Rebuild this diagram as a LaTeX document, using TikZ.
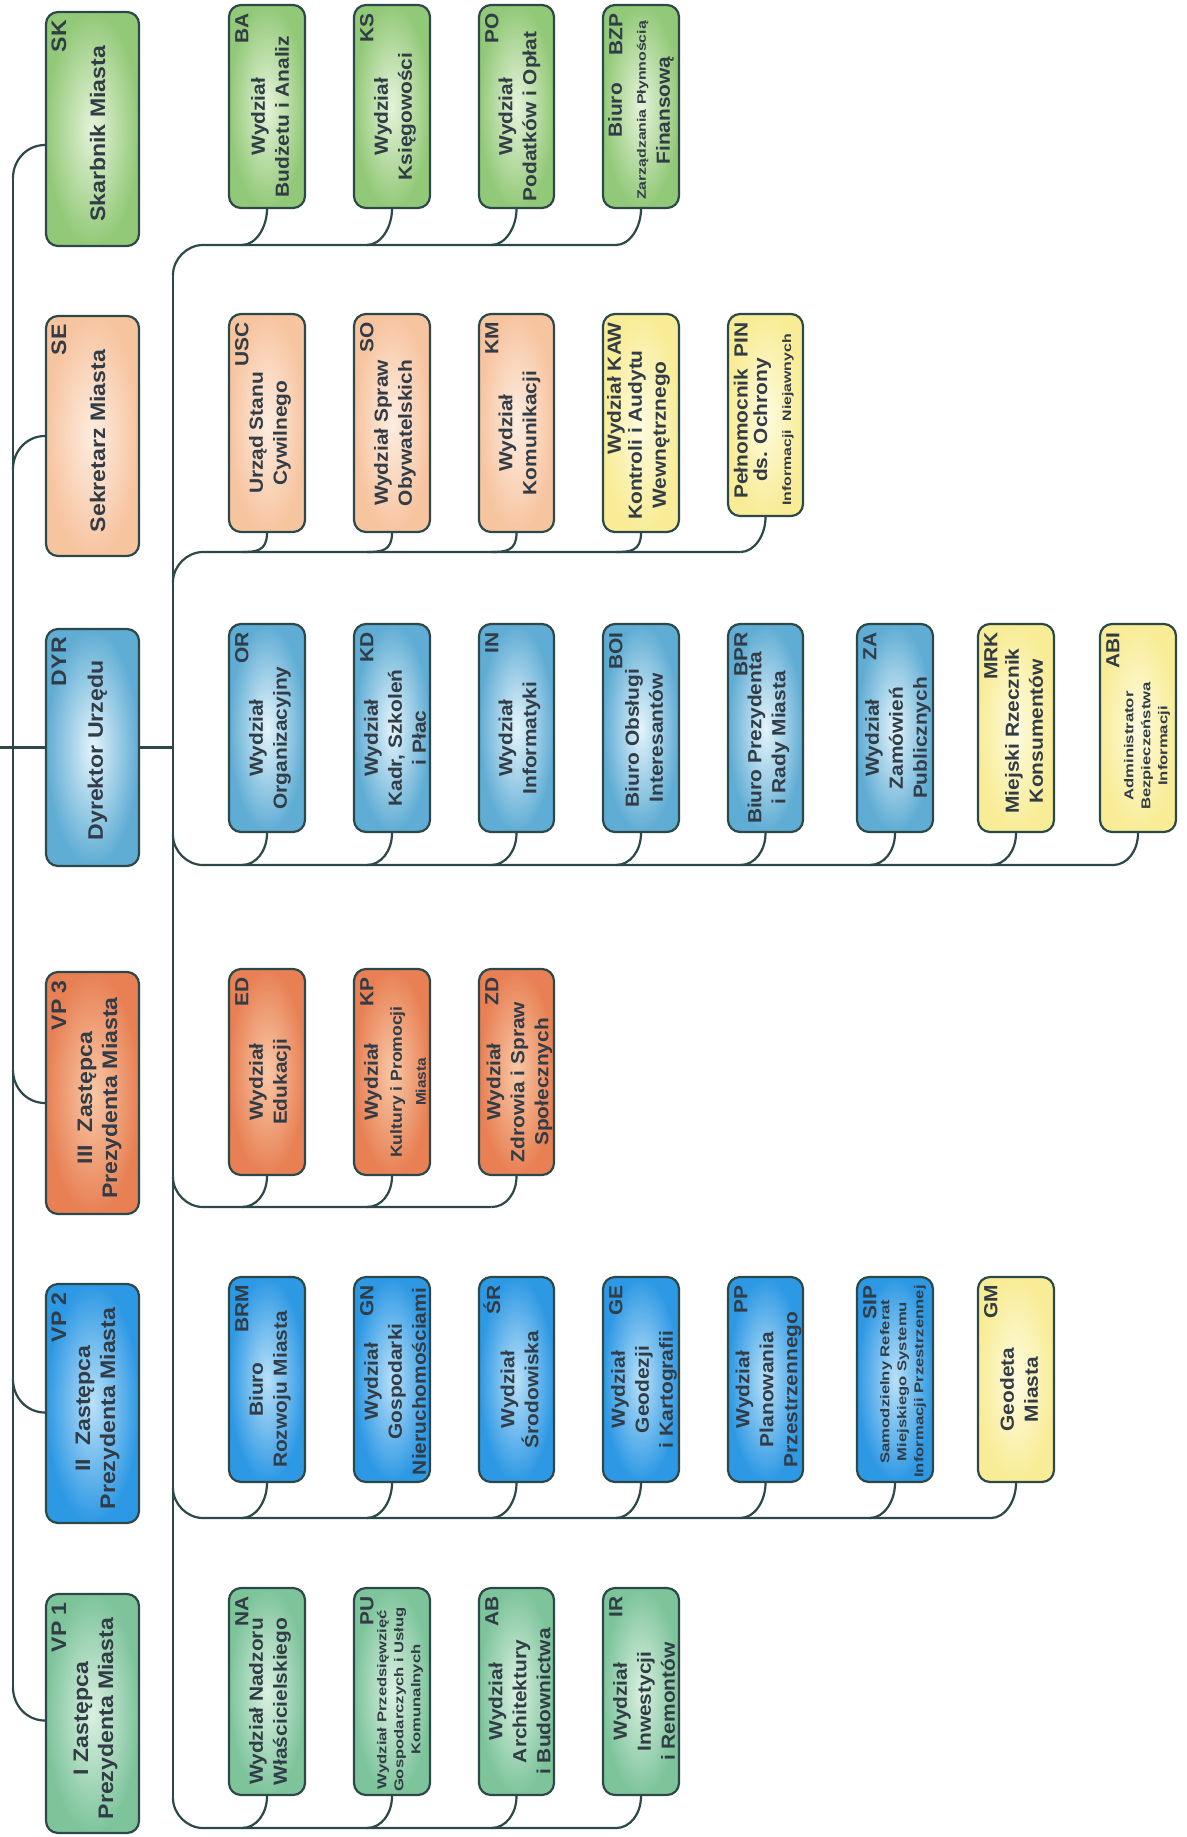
\documentclass[tikz,border=0pt]{standalone}
\usepackage{fontspec}
\setmainfont{Liberation Sans}[FakeStretch=1.1]
\newfontfamily\smallfam{Liberation Sans}[FakeStretch=1.3]
\usetikzlibrary{calc}
\definecolor{edge}{RGB}{45,72,72}
\definecolor{ink}{RGB}{50,60,70}
\definecolor{grn}{RGB}{146,201,120}\definecolor{grnl}{RGB}{230,243,218}
\definecolor{mnt}{RGB}{125,196,155}\definecolor{mntl}{RGB}{218,240,225}
\definecolor{pch}{RGB}{247,196,160}\definecolor{pchl}{RGB}{253,237,224}
\definecolor{ylw}{RGB}{248,236,150}\definecolor{ylwl}{RGB}{254,251,224}
\definecolor{lbl}{RGB}{95,172,212}\definecolor{lbll}{RGB}{228,244,251}
\definecolor{org}{RGB}{232,128,84}\definecolor{orgl}{RGB}{248,200,166}
\definecolor{blu}{RGB}{45,152,228}\definecolor{blul}{RGB}{185,224,248}
\tikzset{
  box/.style={draw=edge, line width=1.1pt, rounded corners=6pt, rotate=90, inner sep=0pt},
  txt/.style={text=ink, align=center, inner sep=0pt, font=\bfseries\fontsize{9.5}{12}\selectfont},
  top/.style={font=\bfseries\fontsize{10.5}{12.5}\selectfont},
  sm/.style={font=\smallfam\bfseries\fontsize{6.4}{8.5}\selectfont},
  conn/.style={draw=edge, line width=1.1pt},
}
\newcommand\sml{\smallfam\fontsize{6.1}{8}\selectfont}
% box: name, x1, y1, x2, y2, colour
\newcommand\bx[6]{\node[box, inner color=#6l, outer color=#6,
  minimum width={(#5-#3)*0.5pt}, minimum height={(#4-#2)*0.5pt}]
  (#1) at ({(#2+#4)/2},{(#3+#5)/2}) {};}
% main text: [style] name, dx, dy, text
\newcommand\tx[5][]{\node[txt, rotate=90, #1] (#2t) at ($(#2.center)+(#3,#4)$) {#5};}
% code: [style] name, code
\newcommand\cd[3][]{\node[txt, rotate=90, anchor=east, #1] (#2c) at ($(#2.north east)+(14,9)$) {#3};}
% child connector: name, group coordinate
\newcommand\cn[2]{\draw[conn] (#1.west) .. controls +(0,18) and +(14,0) .. ($(#1.west |- #2)+(-25,0)$) coordinate (#1j);}
% group lines
\newcommand\gup[2]{\draw[conn] ($(#1)+(0,30)$) .. controls +(0,-16) and +(-16,0) .. ($(#1)+(30,0)$) -- (#2);}
\newcommand\gdn[2]{\draw[conn] ($(#1)+(0,-30)$) .. controls +(0,16) and +(-16,0) .. ($(#1)+(30,0)$) -- (#2);}
% top-level connectors
\newcommand\tup[2]{\coordinate (#1p) at ($(#1.north)+(0,#2)$);
  \draw[conn] ($(#1p -| T1)+(0,33)$) .. controls +(0,-18) and +(-18,0) .. (#1p);}
\newcommand\tdn[2]{\coordinate (#1p) at ($(#1.north)+(0,#2)$);
  \draw[conn] ($(#1p -| T1)+(0,-33)$) .. controls +(0,18) and +(-18,0) .. (#1p);}
\begin{document}
\begin{tikzpicture}[x=0.5pt,y=-0.5pt]
\fill[white] (0,0) rectangle (1187,1837);
\useasboundingbox (0,0) rectangle (1187,1837);
\coordinate (L0) at (0,0);
\coordinate (T1) at (13,0);
\coordinate (T2) at (173,0);
\coordinate (gSK) at (173,245);
\coordinate (gSE) at (173,552);
\coordinate (gDYR) at (173,865);
\coordinate (gVP3) at (173,1207);
\coordinate (gVP2) at (173,1518);
\coordinate (gVP1) at (173,1828);

% ---------- top level ----------
\bx{SK}{46}{12}{139}{246}{grn}
\bx{SE}{46}{316}{139}{556}{pch}
\bx{DYR}{46}{629}{139}{866}{lbl}
\bx{VP3}{46}{972}{139}{1214}{org}
\bx{VP2}{46}{1284}{139}{1523}{blu}
\bx{VP1}{46}{1594}{139}{1833}{mnt}
\tx[top]{SK}{5}{5}{Skarbnik Miasta}\cd[top]{SK}{SK}
\tx[top]{SE}{5}{5}{Sekretarz Miasta}\cd[top]{SE}{SE}
\tx[top]{DYR}{5}{3}{Dyrektor Urzędu}\cd[top]{DYR}{DYR}
\tx[top]{VP3}{7}{5}{III~~Zastępca\\Prezydenta Miasta}\cd[top]{VP3}{VP 3}
\tx[top]{VP2}{5}{5}{II~~Zastępca\\Prezydenta Miasta}\cd[top]{VP2}{VP 2}
\tx[top]{VP1}{3}{5}{I Zastępca\\Prezydenta Miasta}\cd[top]{VP1}{VP 1}

% ---------- row 1 (SK) ----------
\bx{BA}{229}{5}{305}{208}{grn}
\bx{KS}{354}{5}{430}{208}{grn}
\bx{PO}{479}{5}{554}{208}{grn}
\bx{BZP}{603}{5}{679}{208}{grn}
\tx{BA}{3}{10}{Wydział\\Budżetu i Analiz}\cd{BA}{BA}
\tx{KS}{3}{10}{Wydział\\Księgowości}\cd{KS}{KS}
\tx{PO}{3}{10}{Wydział\\Podatków i Opłat}\cd{PO}{PO}
\tx{BZP}{0}{4}{Biuro\\{\sml Zarządzania Płynnością}\\Finansową}\cd{BZP}{BZP}

% ---------- row 2 (SE) ----------
\bx{USC}{229}{314}{305}{532}{pch}
\bx{SO}{354}{314}{430}{532}{pch}
\bx{KM}{479}{314}{554}{532}{pch}
\bx{KAW}{603}{314}{679}{532}{ylw}
\bx{PIN}{728}{314}{803}{516}{ylw}
\tx{USC}{3}{10}{Urząd Stanu\\Cywilnego}\cd{USC}{USC}
\tx{SO}{3}{10}{Wydział Spraw\\Obywatelskich}\cd{SO}{SO}
\tx{KM}{3}{10}{Wydział\\Komunikacji}\cd{KM}{KM}
\tx{KAW}{3}{12}{\mbox{}\\Kontroli i Audytu\\Wewnętrznego}\cd{KAW}{Wydział KAW}
\tx{PIN}{3}{5}{\mbox{}\\ds. Ochrony\\{\sml Informacji~~Niejawnych}}\cd{PIN}{Pełnomocnik~~PIN}

% ---------- row 3 (DYR) ----------
\bx{OR}{229}{624}{305}{832}{lbl}
\bx{KD}{354}{624}{430}{832}{lbl}
\bx{IN}{479}{624}{554}{832}{lbl}
\bx{BOI}{603}{624}{679}{832}{lbl}
\bx{BPR}{728}{624}{803}{832}{lbl}
\bx{ZA}{857}{624}{933}{832}{lbl}
\bx{MRK}{978}{624}{1054}{832}{ylw}
\bx{ABI}{1100}{624}{1176}{832}{ylw}
\tx{OR}{3}{10}{Wydział\\Organizacyjny}\cd{OR}{OR}
\tx{KD}{3}{10}{Wydział\\Kadr, Szkoleń\\i Płac}\cd{KD}{KD}
\tx{IN}{3}{10}{Wydział\\Informatyki}\cd{IN}{IN}
\tx{BOI}{3}{10}{Biuro Obsługi\\Interesantów}\cd{BOI}{BOI}
\tx{BPR}{3}{10}{Biuro Prezydenta\\i Rady Miasta}\cd{BPR}{BPR}
\tx{ZA}{3}{10}{Wydział\\Zamówień\\Publicznych}\cd{ZA}{ZA}
\tx{MRK}{8}{3}{Miejski Rzecznik\\Konsumentów}\cd{MRK}{MRK}
\tx[sm]{ABI}{9}{18}{Administrator\\Bezpieczeństwa\\Informacji}\cd{ABI}{ABI}

% ---------- row 4 (VP3) ----------
\bx{ED}{229}{969}{305}{1175}{org}
\bx{KP}{354}{969}{430}{1175}{org}
\bx{ZD}{479}{969}{554}{1175}{org}
\tx{ED}{3}{10}{Wydział\\Edukacji}\cd{ED}{ED}
\tx{KP}{3}{10}{Wydział\\{\fontsize{8}{9}\selectfont Kultury i Promocji}\\{\fontsize{7}{8}\selectfont Miasta}}\cd{KP}{KP}
\tx{ZD}{3}{10}{Wydział\\Zdrowia i Spraw\\Społecznych}\cd{ZD}{ZD}

% ---------- row 5 (VP2) ----------
\bx{BRM}{229}{1277}{305}{1482}{blu}
\bx{GN}{354}{1277}{430}{1482}{blu}
\bx{SR}{479}{1277}{554}{1482}{blu}
\bx{GE}{603}{1277}{679}{1482}{blu}
\bx{PP}{728}{1277}{803}{1482}{blu}
\bx{SIP}{857}{1277}{933}{1482}{blu}
\bx{GM}{978}{1277}{1054}{1482}{ylw}
\tx{BRM}{3}{10}{Biuro\\Rozwoju Miasta}\cd{BRM}{BRM}
\tx{GN}{3}{2}{Wydział\\Gospodarki\\Nieruchomościami}\cd{GN}{GN}
\tx{SR}{3}{10}{Wydział\\Środowiska}\cd{SR}{ŚR}
\tx{GE}{3}{10}{Wydział\\Geodezji\\i Kartografii}\cd{GE}{GE}
\tx{PP}{3}{10}{Wydział\\Planowania\\Przestrzennego}\cd{PP}{PP}
\tx[sm]{SIP}{8}{2}{Samodzielny Referat\\Miejskiego Systemu\\Informacji Przestrzennej}\cd{SIP}{SIP}
\tx{GM}{3}{10}{Geodeta\\Miasta}\cd{GM}{GM}

% ---------- row 6 (VP1) ----------
\bx{NA}{229}{1588}{305}{1795}{mnt}
\bx{PU}{354}{1588}{430}{1795}{mnt}
\bx{AB}{479}{1588}{554}{1795}{mnt}
\bx{IR}{603}{1588}{679}{1795}{mnt}
\tx{NA}{3}{10}{Wydział Nadzoru\\Właścicielskiego}\cd{NA}{NA}
\tx[sm]{PU}{8}{8}{Wydział Przedsięwzięć\\Gospodarczych i Usług\\Komunalnych}\cd{PU}{PU}
\tx{AB}{3}{10}{Wydział\\Architektury\\i Budownictwa}\cd{AB}{AB}
\tx{IR}{3}{10}{Wydział\\Inwestycji\\i Remontów}\cd{IR}{IR}

% ---------- child connectors ----------
\cn{BA}{gSK}\cn{KS}{gSK}\cn{PO}{gSK}\cn{BZP}{gSK}
\cn{USC}{gSE}\cn{SO}{gSE}\cn{KM}{gSE}\cn{KAW}{gSE}\cn{PIN}{gSE}
\cn{OR}{gDYR}\cn{KD}{gDYR}\cn{IN}{gDYR}\cn{BOI}{gDYR}\cn{BPR}{gDYR}\cn{ZA}{gDYR}\cn{MRK}{gDYR}\cn{ABI}{gDYR}
\cn{ED}{gVP3}\cn{KP}{gVP3}\cn{ZD}{gVP3}
\cn{BRM}{gVP2}\cn{GN}{gVP2}\cn{SR}{gVP2}\cn{GE}{gVP2}\cn{PP}{gVP2}\cn{SIP}{gVP2}\cn{GM}{gVP2}
\cn{NA}{gVP1}\cn{PU}{gVP1}\cn{AB}{gVP1}\cn{IR}{gVP1}

% ---------- group lines and second trunk ----------
\draw[conn] ($(gSK)+(0,30)$) -- ($(gVP1)+(0,-30)$);
\gup{gSK}{BZPj}
\gup{gSE}{PINj}
\gdn{gDYR}{ABIj}
\gdn{gVP3}{ZDj}
\gdn{gVP2}{GMj}
\gdn{gVP1}{IRj}

% ---------- first trunk ----------
\tup{SK}{16}
\tup{SE}{0}
\tdn{VP3}{10}
\tdn{VP2}{9}
\tdn{VP1}{7}
\draw[conn] ($(SKp -| T1)+(0,33)$) -- ($(VP1p -| T1)+(0,-33)$);
\draw[conn] (DYR.north -| L0) -- (DYR.north);
\draw[conn] (DYR.south) -- (DYR.south -| T2);
\end{tikzpicture}
\end{document}
